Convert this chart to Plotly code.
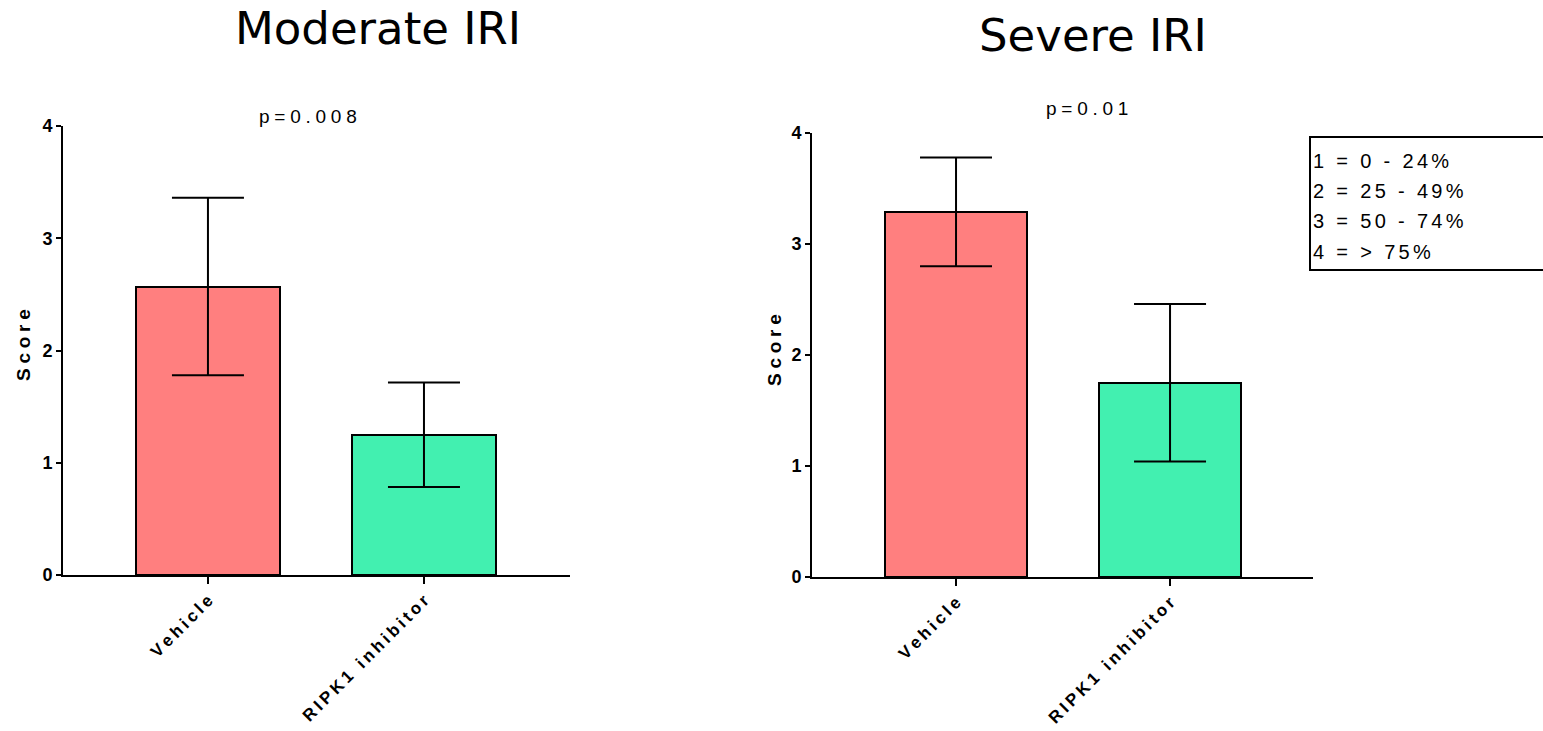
import plotly.graph_objects as go

# ---- data ----
groups = ["Vehicle", "RIPK1 inhibitor"]
moderate_mean = [2.57, 1.25]
moderate_sd = [0.79, 0.465]
severe_mean = [3.29, 1.75]
severe_sd = [0.49, 0.71]
bar_colors = ["#FF7F7F", "#42F0B0"]
y_ticks = [0, 1, 2, 3, 4]
panel_titles = ["Moderate IRI", "Severe IRI"]
p_values = ["p=0.008", "p=0.01"]
score_key = ["1 = 0 - 24%", "2 = 25 - 49%", "3 = 50 - 74%", "4 = > 75%"]

W, H = 1543, 731
SANS = "Arial, Liberation Sans, sans-serif"


def px(x):
    return x / W


def py(y):
    return 1 - y / H


def spaced(text, gap="\u2009"):
    """Emulate letter spacing by putting a narrow space between characters."""
    return gap.join(text)


fig = go.Figure()

panels = [
    dict(mean=moderate_mean, sd=moderate_sd, xa="x", ya="y"),
    dict(mean=severe_mean, sd=severe_sd, xa="x2", ya="y2"),
]

for p in panels:
    fig.add_trace(go.Bar(
        x=[0, 1], y=p["mean"], width=0.667,
        marker=dict(color=bar_colors, line=dict(color="black", width=2)),
        error_y=dict(type="data", array=p["sd"], visible=True,
                     color="black", thickness=2, width=36),
        xaxis=p["xa"], yaxis=p["ya"], showlegend=False,
    ))

tick_labels = [spaced(g) for g in groups]

common_x = dict(
    tickmode="array", tickvals=[0, 1], ticktext=tick_labels, tickangle=-45,
    showline=True, linecolor="black", linewidth=2,
    ticks="outside", ticklen=7, tickwidth=2, tickcolor="black",
    showgrid=False, zeroline=False, automargin=False,
    tickfont=dict(family=SANS, size=17, color="black", weight="bold"),
)
common_y = dict(
    range=[0, 4], tickvals=y_ticks,
    showline=True, linecolor="black", linewidth=2,
    ticks="outside", ticklen=5, tickwidth=2, tickcolor="black",
    showgrid=False, zeroline=False, automargin=False,
    tickfont=dict(family=SANS, size=18, color="black", weight="bold"),
)

fig.update_layout(
    width=W, height=H,
    margin=dict(l=0, r=0, t=0, b=0, autoexpand=False),
    paper_bgcolor="white", plot_bgcolor="white",
    bargap=0,
    xaxis=dict(common_x, domain=[px(63), px(570)], range=[-0.671, 1.676], anchor="y"),
    yaxis=dict(common_y, domain=[py(575), py(126)], anchor="x"),
    xaxis2=dict(common_x, domain=[px(812), px(1313)], range=[-0.673, 1.668], anchor="y2"),
    yaxis2=dict(common_y, domain=[py(577), py(133)], anchor="x2"),
)

annotations = []
# panel titles
for title, (cx, cy) in zip(panel_titles, [(378, 28), (1093, 35)]):
    annotations.append(dict(
        text=title, x=px(cx), y=py(cy), xref="paper", yref="paper",
        xanchor="center", yanchor="middle", showarrow=False,
        font=dict(family="DejaVu Sans", size=45, color="black"),
    ))
# p-values
for pv, (cx, cy) in zip(p_values, [(308, 117), (1087, 109)]):
    annotations.append(dict(
        text=spaced(pv, "\u2005"), x=px(cx), y=py(cy), xref="paper", yref="paper",
        xanchor="center", yanchor="middle", showarrow=False,
        font=dict(family=SANS, size=19, color="black"),
    ))
# y-axis titles
for cx, cy in [(24, 345), (774, 350)]:
    annotations.append(dict(
        text=spaced("Score", "\u2005"), x=px(cx), y=py(cy), xref="paper", yref="paper",
        xanchor="center", yanchor="middle", showarrow=False, textangle=-90,
        font=dict(family=SANS, size=19, color="black", weight="bold"),
    ))
# score key lines
for line, cy in zip(score_key, [161, 191, 221, 252]):
    annotations.append(dict(
        text=spaced(line, "\u2006"), x=px(1311), y=py(cy), xref="paper", yref="paper",
        xanchor="left", yanchor="middle", showarrow=False,
        font=dict(family=SANS, size=20, color="black"),
    ))
fig.update_layout(annotations=annotations)

# score key frame (runs off the right edge)
fig.add_shape(type="rect", xref="paper", yref="paper",
              x0=px(1310), x1=px(1560), y0=py(270), y1=py(137),
              line=dict(color="black", width=2), fillcolor="rgba(0,0,0,0)")

fig.write_html("out.html")
